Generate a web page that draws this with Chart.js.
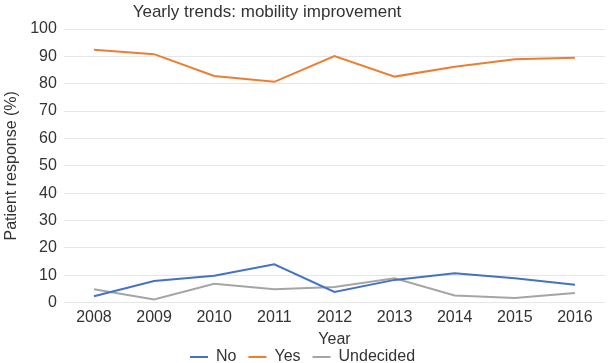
<!DOCTYPE html>
<html>
<head>
    <title>Yearly trends: mobility improvement</title>
    <script src="https://cdn.jsdelivr.net/npm/chart.js"></script>
    <style>
        body { margin: 0; background: #fff; }
        #wrap { width: 608px; height: 363px; }
    </style>
</head>
<body>
    <div id="wrap"><canvas id="myChart"></canvas></div>
    <script>
const years = ['2008', '2009', '2010', '2011', '2012', '2013', '2014', '2015', '2016'];
const noValues = [2.3, 7.9, 9.8, 14, 3.9, 8.3, 10.7, 8.9, 6.5];
const yesValues = [92.4, 90.8, 82.8, 80.7, 90.1, 82.6, 86.2, 88.9, 89.5];
const undecidedValues = [4.9, 1.1, 6.9, 4.9, 5.7, 8.9, 2.6, 1.7, 3.5];

const fontFamily = '"Liberation Sans", Arial, Helvetica, sans-serif';
const textColor = '#333';

// title sits a bit left of centre in the original
const titlePlugin = {
    id: 'offsetTitle',
    afterDraw(chart) {
        const c = chart.ctx;
        c.save();
        c.font = '17px ' + fontFamily;
        c.fillStyle = textColor;
        c.textAlign = 'center';
        c.textBaseline = 'middle';
        c.fillText('Yearly trends: mobility improvement', 267, 12);
        c.restore();
    }
};

// keep the spacing between legend items but drop the bottom padding
const tightLegend = {
    id: 'tightLegend',
    beforeUpdate(chart) {
        const legend = chart.legend;
        if (!legend || legend._tight) return;
        const fit = legend.fit;
        legend.fit = function () {
            fit.call(this);
            this.height -= this.options.labels.padding;
        };
        legend._tight = true;
    }
};

const ctx = document.getElementById('myChart').getContext('2d');

const chart = new Chart(ctx, {
    type: 'line',
    data: {
        labels: years,
        datasets: [
            { label: 'No', data: noValues, borderColor: '#4472C4', backgroundColor: '#4472C4' },
            { label: 'Yes', data: yesValues, borderColor: '#ED7D31', backgroundColor: '#ED7D31' },
            { label: 'Undecided', data: undecidedValues, borderColor: '#A5A5A5', backgroundColor: '#A5A5A5' }
        ]
    },
    options: {
        responsive: true,
        maintainAspectRatio: false,
        animation: false,
        layout: { padding: { top: 29, right: 3, left: 0, bottom: 0 } },
        elements: {
            line: { borderWidth: 2, tension: 0 },
            point: { radius: 0 }
        },
        plugins: {
            title: { display: false },
            legend: {
                position: 'bottom',
                labels: {
                    font: { size: 16, family: fontFamily },
                    color: textColor,
                    boxWidth: 18,
                    boxHeight: 0,
                    padding: 12
                }
            },
            tooltip: { enabled: false }
        },
        scales: {
            x: {
                offset: true,
                grid: { display: false, drawTicks: false },
                border: { display: false },
                ticks: { font: { size: 16, family: fontFamily }, color: textColor, maxRotation: 0, padding: 5 },
                title: { display: true, text: 'Year', font: { size: 16, family: fontFamily }, color: textColor, padding: { top: -2, bottom: -12 } }
            },
            y: {
                min: 0,
                max: 100,
                grid: { color: '#e6e6e6', drawTicks: false },
                border: { display: false },
                ticks: { stepSize: 10, font: { size: 16, family: fontFamily }, color: textColor, padding: 7 },
                title: { display: true, text: 'Patient response (%)', font: { size: 16, family: fontFamily }, color: textColor, padding: 2 }
            }
        }
    },
    plugins: [titlePlugin, tightLegend]
});
    </script>
</body>
</html>
